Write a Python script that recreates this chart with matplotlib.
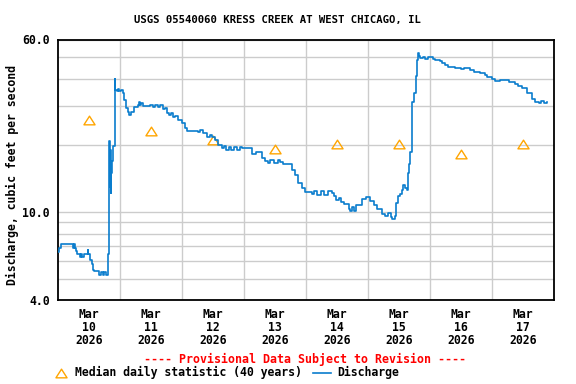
import matplotlib
matplotlib.use("Agg")
import matplotlib.pyplot as plt
from matplotlib.lines import Line2D
from matplotlib.path import Path as MPath
from matplotlib.ticker import FixedLocator, NullFormatter

TITLE = "USGS 05540060 KRESS CREEK AT WEST CHICAGO, IL"
YLABEL = "Discharge, cubic feet per second"
DAYS = [10, 11, 12, 13, 14, 15, 16, 17]
MEDIAN_CFS = [26.0, 23.2, 21.1, 19.2, 20.2, 20.2, 18.2, 20.2]

HOURS = [
    0.0, 0.4, 0.9, 1.9, 5.6, 6.0, 6.4, 6.9, 7.3, 8.3, 8.8, 9.3, 9.8, 10.2,
    11.4, 11.6, 12.4, 12.9, 13.4, 13.9, 15.6, 16.5, 17.2, 17.8, 18.5, 19.3,
    19.7, 19.9, 20.1, 20.3, 20.5, 20.8, 21.1, 21.8, 22.1, 22.6, 23.0, 23.6,
    24.3, 24.9, 25.5, 26.2, 27.0, 27.3, 28.1, 29.4, 30.7, 31.2, 31.7, 32.2,
    32.8, 35.5, 36.5, 37.5, 38.5, 39.5, 40.5, 41.2, 42.1, 43.0, 43.5, 44.4,
    45.2, 46.3, 47.9, 49.0, 49.8, 51.8, 53.0, 54.0, 55.0, 56.0, 57.6, 58.8,
    59.6, 60.6, 61.8, 63.3, 64.0, 65.0, 66.0, 67.0, 68.0,
    69.2, 70.4, 71.1, 75.0, 76.5, 78.8, 80.0, 81.0, 82.0, 83.5, 85.0, 86.0, 87.0,
    90.5, 91.6, 92.8, 94.3, 95.5, 98.2, 99.0, 100.0, 101.5, 103.0, 104.5,
    106.0, 106.7, 107.5, 108.5, 109.5, 110.6, 112.5, 112.9, 113.8, 114.6,
    115.2, 117.6, 119.0, 120.5, 122.2, 123.4, 125.3, 126.5, 127.8, 128.8,
    129.2, 130.2, 130.7, 131.5, 132.3, 133.0, 133.5, 134.2, 135.0, 135.4,
    135.8, 136.3, 136.8, 137.1, 137.7, 138.5, 139.0, 139.3, 139.6, 140.2,
    141.2, 142.0, 143.0, 145.1, 146.0, 147.8, 148.5, 149.7, 151.0, 153.6,
    156.0, 157.0, 159.4, 161.0, 163.3, 165.0, 166.0, 167.8, 169.0, 171.0,
    174.3, 176.7, 178.0, 179.4, 181.3, 183.3, 184.5, 186.0, 187.0, 188.0,
    189.1,
]
CFS = [
    6.6, 6.9, 7.15, 7.15, 6.9, 7.15, 6.9, 6.7, 6.45, 6.25, 6.45, 6.25, 6.45, 6.45,
    6.75, 6.45, 6.1, 5.85, 5.5, 5.4, 5.2, 5.35, 5.2, 5.35, 5.2, 6.5,
    21.0, 13.0, 19.0, 12.2, 15.0, 17.0, 19.8, 40.0, 35.6, 35.0, 35.8, 35.0,
    35.6, 34.4, 32.1, 29.5, 28.4, 27.5, 28.4, 29.8, 30.5, 31.2, 30.4, 31.0,
    30.0, 30.3, 29.7, 30.4, 29.7, 30.4, 29.1, 29.6, 28.0, 27.3, 28.0, 26.8,
    27.2, 26.1, 25.3, 24.0, 23.3, 23.1, 23.3, 22.9, 23.4, 22.8, 21.9, 22.3,
    21.8, 21.2, 20.1, 19.4, 19.8, 19.1, 19.6, 19.1, 19.6,
    19.1, 19.7, 19.4, 18.3, 18.6, 17.5, 17.0, 16.7, 17.2, 16.7, 17.2, 16.8, 16.4,
    15.5, 14.7, 13.5, 12.8, 12.3, 12.1, 12.5, 11.9, 12.4, 11.9, 12.4,
    12.2, 11.8, 11.3, 11.6, 11.1, 10.9, 10.3, 10.1, 10.5, 10.1,
    10.8, 11.4, 11.7, 11.2, 10.8, 10.3, 9.8, 9.6, 9.9, 9.5,
    9.3, 9.6, 11.0, 11.8, 12.0, 12.6, 13.3, 12.9, 12.6, 15.0,
    16.5, 18.7, 19.5, 31.5, 34.5, 41.0, 48.7, 52.0, 50.5, 49.3,
    50.0, 49.2, 50.0, 49.2, 48.5, 47.8, 46.8, 46.2, 45.2, 44.8,
    44.3, 44.8, 43.8, 42.8, 42.2, 41.4, 40.8, 40.0, 38.9, 39.3,
    38.7, 37.9, 36.9, 36.2, 34.4, 32.3, 31.5, 31.0, 31.8, 31.0,
    31.2,
]

FONT = "DejaVu Sans Mono"
LINE_COLOR = "#0a7dcd"
MEDIAN_COLOR = "#ffa500"
GRID_COLOR = "#cccccc"

# flat open triangle like the USGS marker
TRIANGLE = MPath([(0, 0.78), (-1, -0.78), (1, -0.78), (0, 0.78)],
                 [MPath.MOVETO, MPath.LINETO, MPath.LINETO, MPath.CLOSEPOLY])

plt.rcParams["font.family"] = FONT
plt.rcParams["font.weight"] = "bold"

fig = plt.figure(figsize=(5.76, 3.84), dpi=100)
fig.patch.set_facecolor("white")
ax = fig.add_axes([58.3 / 576, 1 - 300.3 / 384, 496 / 576, 260.8 / 384])

median_x = [(d - 10) * 24 + 12 for d in DAYS]
ax.plot(median_x, MEDIAN_CFS, linestyle="none", marker=TRIANGLE, markersize=8,
        markerfacecolor="none", markeredgecolor=MEDIAN_COLOR, markeredgewidth=1.0,
        zorder=3)
ax.step(HOURS, CFS, where="post", color=LINE_COLOR, linewidth=1.2, zorder=4)

ax.set_yscale("log")
ax.set_ylim(4, 60)
ax.yaxis.set_major_locator(FixedLocator([4, 10, 60]))
ax.yaxis.set_minor_locator(FixedLocator([5, 6, 7, 8, 9, 20, 30, 40, 50]))
ax.yaxis.set_minor_formatter(NullFormatter())
ax.set_yticklabels(["4.0", "10.0", "60.0"])

ax.set_xlim(0, 192)
ax.xaxis.set_major_locator(FixedLocator(median_x))
ax.xaxis.set_minor_locator(FixedLocator([24 * k for k in range(1, 8)]))
ax.set_xticklabels([f"Mar\n{d}\n2026" for d in DAYS], linespacing=1.0)

ax.grid(which="minor", color=GRID_COLOR, linewidth=1.0, zorder=0)
ax.grid(which="major", axis="y", color=GRID_COLOR, linewidth=1.0, zorder=0)
ax.set_axisbelow(True)
ax.tick_params(which="both", length=0, labelsize=8.3)
ax.tick_params(axis="x", pad=5.5)
ax.tick_params(axis="y", pad=6)
for spine in ax.spines.values():
    spine.set_linewidth(1.3)

fig.text(0.5 * (135 + 420) / 576, 1 - 20 / 384, TITLE, ha="center", va="center",
         fontsize=7.7, fontweight="bold")
fig.text(12 / 576, 1 - 174.7 / 384, YLABEL, rotation=90, ha="center", va="center",
         fontsize=8.3, fontweight="bold")
fig.text(305.5 / 576, 1 - 359 / 384, "---- Provisional Data Subject to Revision ----",
         ha="center", va="center", fontsize=8.4, fontweight="bold", color="red")

# legend row drawn by hand
legend_y = 1 - 372.7 / 384
fig.add_artist(Line2D([60.7 / 576], [legend_y], marker=TRIANGLE, markersize=8,
                      markerfacecolor="none", markeredgecolor=MEDIAN_COLOR,
                      markeredgewidth=1.0, linestyle="none"))
fig.text(75 / 576, legend_y, "Median daily statistic (40 years)", ha="left",
         va="center", fontsize=8.3, fontweight="bold")
fig.add_artist(Line2D([313 / 576, 331 / 576], [legend_y, legend_y],
                      color=LINE_COLOR, linewidth=1.2))
fig.text(337 / 576, legend_y, "Discharge", ha="left", va="center",
         fontsize=8.3, fontweight="bold")

fig.savefig("out.png", dpi=100, facecolor="white")
